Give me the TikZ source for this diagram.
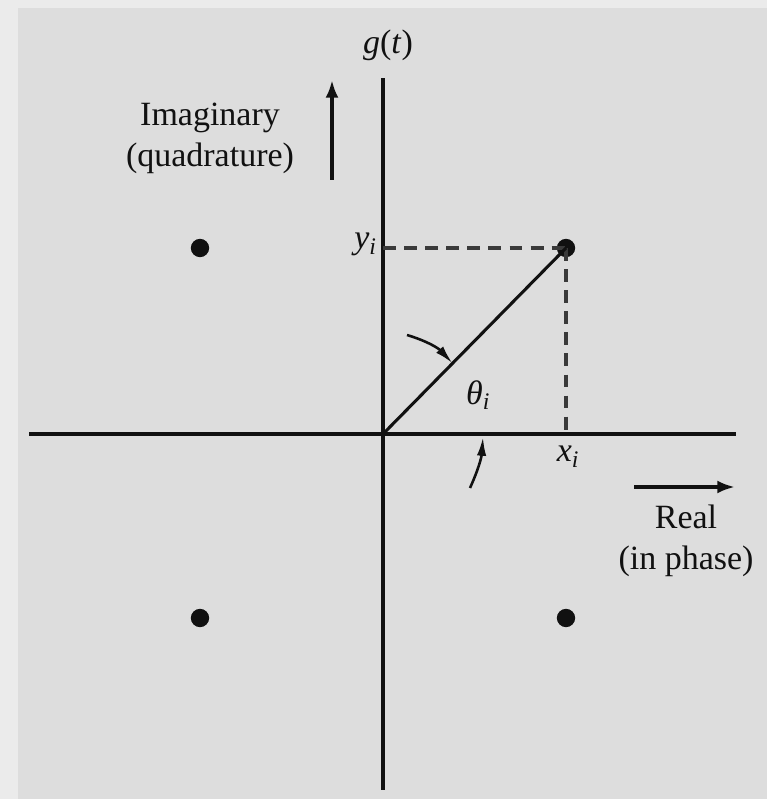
\documentclass[tikz,border=0pt]{standalone}
\usepackage{fontspec}
\setmainfont{Liberation Serif}
\usetikzlibrary{arrows.meta,calc}
\definecolor{ink}{HTML}{111111}
\definecolor{dsh}{HTML}{3A3A3A}
\definecolor{page}{HTML}{DDDDDD}
\definecolor{edge}{HTML}{EBEBEB}
\tikzset{
  axis/.style={ink,line width=3.4pt},
  proj/.style={dsh,line width=3.2pt,dash pattern=on 11pt off 7pt},
  vec/.style={ink,line width=2.6pt},
  pt/.style={circle,fill=ink,inner sep=0pt,minimum size=0.55cm},
  lab/.style={font=\fontsize{29}{35}\selectfont,text=ink,inner sep=1pt},
  dirarr/.style={-{Latex[length=15pt,width=11pt]},ink,line width=3.6pt},
  angarr/.style={-{Latex[length=16pt,width=8pt]},ink,line width=2.2pt}
}
\newcommand{\vsub}[2]{\textit{#1}\textsubscript{\textit{#2}}}

\begin{document}
\begin{tikzpicture}[x=1cm,y=1cm]
% ---------------- page ----------------
\fill[edge] (0,0) rectangle (23.01,23.97);
\fill[page] (0.54,0) rectangle (23.01,23.73);
\useasboundingbox (0,0) rectangle (23.01,23.97);
% ---------------- axes ----------------
\coordinate (orig) at (11.49,10.95);
\coordinate (ytop) at (11.49,21.63);
\coordinate (ybot) at (11.49,0.27);
\coordinate (xl) at (0.87,10.95);
\coordinate (xr) at (22.08,10.95);
\draw[axis] (ybot) -- (ytop);
\draw[axis] (xl) -- (xr);
\node[lab] (gt) at (11.64,22.62) {\textit{g}(\textit{t})};
% ---------------- constellation points ----------------
\node[pt] (q1) at (16.98,16.53) {};
\node[pt] (q2) at (6.0,16.53) {};
\node[pt] (q3) at (6.0,5.43) {};
\node[pt] (q4) at (16.98,5.43) {};
\coordinate (py) at (orig |- q1);
\coordinate (px) at (q1 |- orig);
\draw[proj] (py) -- (q1.center);
\draw[proj] (q1.center) -- (px);
\draw[vec] (orig) -- (q1.center);
\node[lab,anchor=east] (yi) at ($(py)+(-0.15,0.1)$) {\vsub{y}{i}};
\node[lab] (xi) at (17.04,10.26) {\vsub{x}{i}};
\node[lab] (th) at (14.34,12.12) {\vsub{θ}{i}};
% ---------------- angle arrows ----------------
\coordinate (a1) at (12.21,13.92);
\coordinate (a2) at (14.10,9.33);
\coordinate (a2t) at (14.49,10.86);
\draw[angarr] (a1) to[bend left=15] ($(orig)!0.38!(q1.center)$);
\draw[angarr] (a2) to[bend right=10] (a2t);
% ---------------- axis names ----------------
\node[lab,align=center] (imag) at (6.3,19.83) {Imaginary\\(quadrature)};
\coordinate (u0) at (9.96,18.57);
\coordinate (u1) at (9.96,21.57);
\draw[dirarr] (u0) -- (u1);
\node[lab,align=center] (real) at (20.58,7.74) {Real\\(in phase)};
\coordinate (r0) at (19.02,9.36);
\coordinate (r1) at (22.05,9.36);
\draw[dirarr] (r0) -- (r1);
\end{tikzpicture}
\end{document}
